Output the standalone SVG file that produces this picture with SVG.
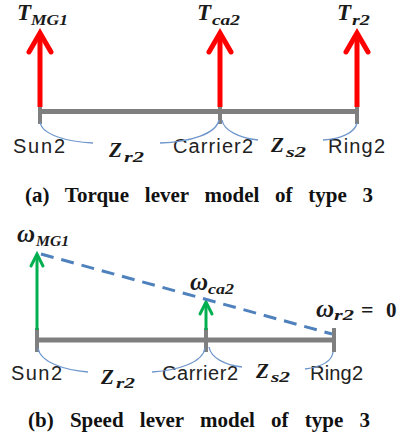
<svg xmlns="http://www.w3.org/2000/svg" width="404" height="440" viewBox="0 0 404 440">
<defs>
<style>
.bar{stroke:#7f7f7f;stroke-width:5;fill:none}
.tick{stroke:#7f7f7f;stroke-width:4;fill:none}
.red{stroke:#ff0000;stroke-width:5;fill:none;stroke-linecap:butt}
.redh{stroke:#ff0000;stroke-width:5;fill:none;stroke-linecap:round;stroke-linejoin:miter}
.grn{stroke:#00b050;stroke-width:3;fill:none}
.grnh{stroke:#00b050;stroke-width:3;fill:none;stroke-linecap:round}
.brace{stroke:#6f97cc;stroke-width:1.3;fill:none}
.dash{stroke:#4f81bd;stroke-width:3;fill:none;stroke-dasharray:13 8}
.lbl{font-family:"Liberation Sans",Arial,sans-serif;font-size:20px;fill:#222}
.mv{font-family:"Liberation Serif","Times New Roman",serif;font-weight:bold;font-style:italic;fill:#1a1a1a}
.up{font-family:"Liberation Serif","Times New Roman",serif;font-weight:bold;fill:#1a1a1a}
.cap{font-family:"Liberation Serif","Times New Roman",serif;font-weight:bold;font-size:21px;fill:#111}
</style>
</defs>
<rect width="404" height="440" fill="#ffffff"/>

<!-- Top: torque lever -->
<g id="lever-a">
<line class="bar" x1="40" y1="111.5" x2="358" y2="111.5"/>
<line class="tick" x1="40" y1="107" x2="40" y2="124"/>
<line class="tick" x1="220" y1="107" x2="220" y2="124"/>
<line class="tick" x1="357" y1="107" x2="357" y2="124"/>
</g>
<g id="arrow-TMG1">
<line class="red" x1="40" y1="107" x2="40" y2="34"/>
<polyline class="redh" points="29,52 40,33 51,52"/>
<text class="mv" x="17" y="20" font-size="23">T</text><text class="mv" x="31" y="25" font-size="15" textLength="37" lengthAdjust="spacingAndGlyphs">MG1</text>
</g>
<g id="arrow-Tca2">
<line class="red" x1="220" y1="107" x2="220" y2="34"/>
<polyline class="redh" points="209,52 220,33 231,52"/>
<text class="mv" x="197" y="20" font-size="23">T</text><text class="mv" x="212" y="25" font-size="15" textLength="28" lengthAdjust="spacingAndGlyphs">ca2</text>
</g>
<g id="arrow-Tr2">
<line class="red" x1="357" y1="107" x2="357" y2="34"/>
<polyline class="redh" points="346,52 357,33 368,52"/>
<text class="mv" x="337" y="20" font-size="23">T</text><text class="mv" x="352" y="25" font-size="15" textLength="18" lengthAdjust="spacingAndGlyphs">r2</text>
</g>
<g id="labels-a">
<text class="lbl" x="13" y="153" textLength="52">Sun2</text>
<text class="lbl" x="173" y="153" textLength="80">Carrier2</text>
<text class="lbl" x="328" y="153" textLength="57">Ring2</text>
</g>
<g id="braces-a">
<path class="brace" d="M40,122 C42,135 68,142 93,143"/>
<path class="brace" d="M160,143 C190,142 216,134 219,120"/>
<path class="brace" d="M222,120 C224,131 240,138 258,140"/>
<path class="brace" d="M323,140 C340,139 355,133 357,123"/>
<text class="mv" x="109" y="157" font-size="21">Z</text><text class="mv" x="124" y="162" font-size="15" textLength="20" lengthAdjust="spacingAndGlyphs">r2</text>
<text class="mv" x="271" y="152" font-size="21">Z</text><text class="mv" x="286" y="157" font-size="15" textLength="20" lengthAdjust="spacingAndGlyphs">s2</text>
</g>
<text class="cap" x="25" y="202" style="word-spacing:10.5px">(a) Torque lever model of type 3</text>

<!-- Bottom: speed lever -->
<g id="lever-b">
<line class="bar" x1="37" y1="340" x2="335" y2="340"/>
<line class="tick" x1="37" y1="328" x2="37" y2="352"/>
<line class="tick" x1="206" y1="328" x2="206" y2="352"/>
<line class="tick" x1="334" y1="328" x2="334" y2="352"/>
</g>
<g id="arrow-wMG1">
<line class="grn" x1="37" y1="330" x2="37" y2="255"/>
<polyline class="grnh" points="31,266 37,254 43,266"/>
<text class="mv" x="17" y="242" font-size="25">ω</text><text class="mv" x="36" y="246" font-size="15" textLength="33" lengthAdjust="spacingAndGlyphs">MG1</text>
</g>
<g id="arrow-wca2">
<line class="grn" x1="206" y1="330" x2="206" y2="303"/>
<polyline class="grnh" points="200,314 206,302 212,314"/>
<text class="mv" x="190" y="290" font-size="25">ω</text><text class="mv" x="208" y="294" font-size="15" textLength="26" lengthAdjust="spacingAndGlyphs">ca2</text>
</g>
<g id="label-wr2">
<text class="mv" x="316" y="317" font-size="25">ω</text><text class="mv" x="334" y="320" font-size="15" textLength="20" lengthAdjust="spacingAndGlyphs">r2</text>
<text class="up" x="361" y="317" font-size="22">=</text>
<text class="up" x="386" y="317" font-size="21">0</text>
</g>
<g id="connectors">
<line class="dash" x1="41" y1="254" x2="332" y2="334"/>
</g>
<g id="labels-b">
<text class="lbl" x="11" y="380" textLength="51">Sun2</text>
<text class="lbl" x="162" y="380" textLength="76">Carrier2</text>
<text class="lbl" x="310" y="380" textLength="53">Ring2</text>
</g>
<g id="braces-b">
<path class="brace" d="M38,348 C40,362 64,370 88,372"/>
<path class="brace" d="M152,372 C180,370 203,362 205,348"/>
<path class="brace" d="M209,347 C211,358 225,365 242,367"/>
<path class="brace" d="M305,369 C320,367 332,362 333,352"/>
<text class="mv" x="101" y="384" font-size="21">Z</text><text class="mv" x="116" y="388" font-size="15" textLength="19" lengthAdjust="spacingAndGlyphs">r2</text>
<text class="mv" x="256" y="378" font-size="21">Z</text><text class="mv" x="271" y="382" font-size="15" textLength="19" lengthAdjust="spacingAndGlyphs">s2</text>
</g>
<text class="cap" x="28" y="427" style="word-spacing:11px">(b) Speed lever model of type 3</text>
</svg>
